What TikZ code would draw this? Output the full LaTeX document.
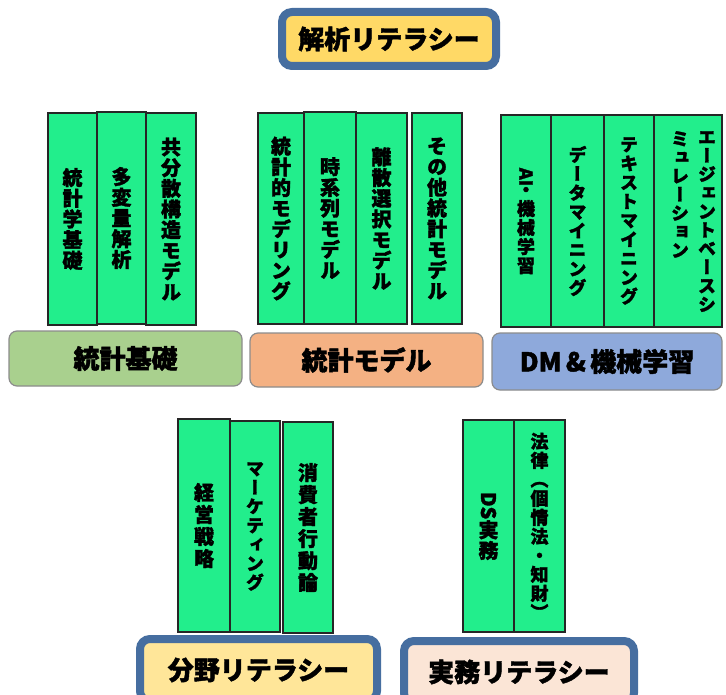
\documentclass[tikz,border=0pt]{standalone}
\usepackage{fontspec}
\usepackage{graphicx}
\newfontfamily\jp[BoldFeatures={FakeBold=1.6}]{Noto Sans CJK JP}
\newfontfamily\vjp[RawFeature=+vert,BoldFeatures={FakeBold=1.6}]{Noto Sans CJK JP}
\definecolor{bookgreen}{RGB}{34,238,140}
\definecolor{basegreen}{RGB}{169,208,142}
\definecolor{baseorange}{RGB}{244,177,131}
\definecolor{baseblue}{RGB}{142,169,219}
\definecolor{frameblue}{RGB}{70,110,160}
\definecolor{topyellow}{RGB}{255,217,102}
\definecolor{lightyellow}{RGB}{255,230,153}
\definecolor{lightpink}{RGB}{251,229,214}
\begin{document}
\begin{tikzpicture}[x=1pt,y=-1pt,
  book/.style={draw=black!85, line width=1.1pt, fill=bookgreen, inner sep=0pt, align=center,
    font=\vjp\bfseries\fontsize{20}{20.7}\selectfont},
  vsmall/.style={font=\vjp\bfseries\fontsize{18}{19}\selectfont},
  coltext/.style={inner sep=0pt, align=center, anchor=north, font=\vjp\bfseries\fontsize{18}{18.6}\selectfont},
  basebox/.style={draw=black!45, line width=1.2pt, rounded corners=8pt, inner sep=0pt,
    font=\jp\bfseries\fontsize{26}{26}\selectfont},
  litbox/.style={draw=frameblue, line width=8pt, rounded corners=10pt, inner sep=0pt,
    font=\jp\bfseries\fontsize{26}{26}\selectfont}]
\useasboundingbox (0,0) rectangle (726,695);
\clip (0,0) rectangle (726,695);

% top
\node[litbox, fill=topyellow, minimum width=214pt, minimum height=54pt] (kaiseki) at (389,39) {解析リテラシー};

% group 1
\node[book, minimum width=49pt, minimum height=212pt] (g1a) at (72.5,219) {統\\計\\学\\基\\礎};
\node[book, minimum width=49pt, minimum height=212pt] (g1b) at (121.5,218) {多\\変\\量\\解\\析};
\node[book, minimum width=50pt, minimum height=212pt] (g1c) at (171,219) {共\\分\\散\\構\\造\\モ\\デ\\ル};
\node[basebox, fill=basegreen, minimum width=233pt, minimum height=55pt] (toukeikiso) at (125.5,358.5) {統計基礎};

% group 2
\node[book, minimum width=46pt, minimum height=211pt] (g2a) at (281,218.5) {統\\計\\的\\モ\\デ\\リ\\ン\\グ};
\node[book, minimum width=52pt, minimum height=212pt] (g2b) at (330,218) {時\\系\\列\\モ\\デ\\ル};
\node[book, minimum width=51pt, minimum height=211pt] (g2c) at (381.5,218.5) {離\\散\\選\\択\\モ\\デ\\ル};
\node[book, minimum width=50pt, minimum height=211pt] (g2d) at (437,218.5) {そ\\の\\他\\統\\計\\モ\\デ\\ル};
\node[basebox, fill=baseorange, minimum width=233pt, minimum height=54pt] (toukeimodel) at (366.5,360) {統計モデル};

% group 3
\node[book, vsmall, minimum width=50pt, minimum height=212pt] (g3a) at (526,221) {\rotatebox{-90}{\jp\bfseries AI}\\・\\機\\械\\学\\習};
\node[book, vsmall, minimum width=53pt, minimum height=212pt] (g3b) at (577.5,221) {デ\\ー\\タ\\マ\\イ\\ニ\\ン\\グ};
\node[book, vsmall, minimum width=50pt, minimum height=212pt] (g3c) at (629,221) {テ\\キ\\ス\\ト\\マ\\イ\\ニ\\ン\\グ};
\node[book, minimum width=68pt, minimum height=212pt] (g3d) at (688,221) {};
\node[coltext] (g3dr) at (707,131) {エ\\ー\\ジ\\ェ\\ン\\ト\\ベ\\ー\\ス\\シ};
\node[coltext] (g3dl) at (680,131) {ミ\\ュ\\レ\\ー\\シ\\ョ\\ン};
\node[basebox, fill=baseblue, minimum width=230pt, minimum height=57pt] (dm) at (607,361.5) {DM\,\&\,機械学習};

% group 4
\node[book, minimum width=52pt, minimum height=213pt, font=\vjp\bfseries\fontsize{20}{22}\selectfont] (g4a) at (204,525.5) {経\\営\\戦\\略};
\node[book, vsmall, minimum width=50pt, minimum height=211pt] (g4b) at (255,526.5) {マ\\ー\\ケ\\テ\\ィ\\ン\\グ};
\node[book, minimum width=50pt, minimum height=211pt, font=\vjp\bfseries\fontsize{20}{22}\selectfont] (g4c) at (308,527.5) {消\\費\\者\\行\\動\\論};
\node[litbox, fill=lightyellow, minimum width=237pt, minimum height=62pt] (bunya) at (258.5,670) {\raisebox{-1pt}{分野リテラシー}};

% group 5
\node[book, minimum width=51pt, minimum height=212pt] (g5a) at (488.5,526) {\rotatebox{-90}{\jp\bfseries DS}\\実\\務};
\node[book, vsmall, minimum width=51pt, minimum height=212pt] (g5b) at (539.5,526) {法\\律\\（\\個\\情\\法\\・\\知\\財\\）};
\node[litbox, fill=lightpink, minimum width=230pt, minimum height=62pt] (jitsumu) at (519,672) {\raisebox{-1pt}{実務リテラシー}};
\end{tikzpicture}
\end{document}
